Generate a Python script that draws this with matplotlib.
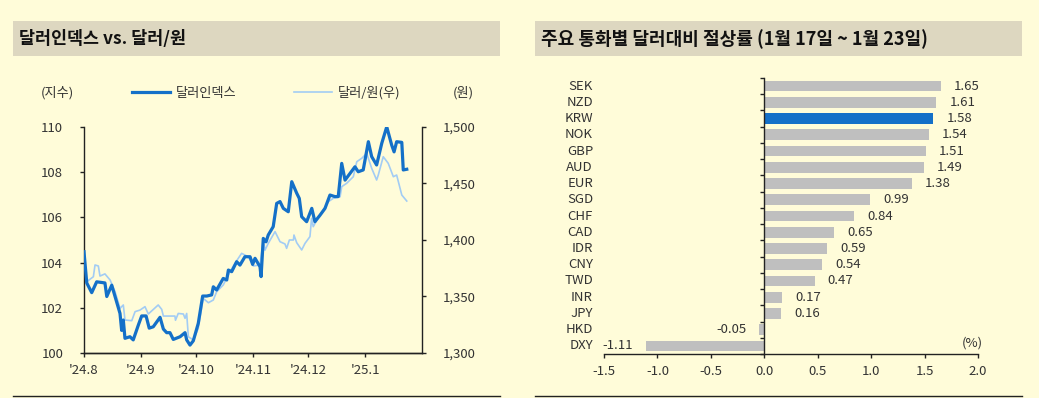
"""Dollar index vs USD/KRW, and weekly currency moves vs the dollar."""

import matplotlib
matplotlib.use("Agg")
import matplotlib.pyplot as plt
from matplotlib.patches import Rectangle
from matplotlib.lines import Line2D
from matplotlib.transforms import blended_transform_factory
from matplotlib.ticker import FuncFormatter

plt.rcParams["font.family"] = ["Noto Sans CJK KR", "DejaVu Sans"]
plt.rcParams["axes.unicode_minus"] = False

BG = "#FFFCD9"
BAND = "#DDD7C0"
DARK = "#1470C8"
LIGHT = "#A2CCF4"
GRAY = "#BFBFBF"
INK = "#222222"

# ---- left panel data (days since 2024-08-01) ----
month_ticks = [0, 31, 61, 92, 122, 153]
month_labels = ["'24.8", "'24.9", "'24.10", "'24.11", "'24.12", "'25.1"]

dxy_day = [0, 1.5, 4.2, 6.9, 11.4, 12.4, 15.1, 16.9, 19.6, 20.5, 21.4, 22.3, 25.0, 26.8, 29.6,
           31.4, 33.8, 35.5, 37.7, 41.4, 43.2, 45.0, 46.8, 48.6, 52.3, 55.0, 55.9, 57.7, 59.5, 62.2,
           64.6, 66.8, 69.5, 70.4, 72.2, 75.8, 77.7, 78.6, 80.4, 83.1, 84.9, 87.6, 90.4, 91.8, 93.1,
           95.8, 96.4, 97.6, 99.1, 100.3, 103.0, 104.9, 106.7, 108.5, 111.2, 113.1, 115.8, 117.2,
           118.5, 121.2, 124.0, 125.7, 128.5, 131.2, 133.9, 136.6, 138.4, 140.3, 142.1, 147.5,
           149.3, 152.0, 154.8, 156.6, 159.3, 162.1, 164.8, 167.5, 168.8, 170.2, 173.0, 173.8, 175.7]
dxy = [104.48, 103.1, 102.67, 103.15, 103.1, 102.5, 103.0, 102.5, 101.75, 101.0, 101.46, 100.65,
       100.72, 100.58, 101.24, 101.64, 101.64, 101.1, 101.16, 101.58, 101.06, 100.9, 100.9, 100.6,
       100.72, 100.9, 100.58, 100.35, 100.54, 101.31, 102.52, 102.52, 102.57, 102.93, 102.79, 103.3,
       103.23, 103.67, 103.6, 104.04, 103.89, 104.26, 104.26, 103.92, 104.19, 103.82, 103.38, 105.07,
       104.92, 105.22, 105.59, 106.62, 106.7, 106.4, 106.25, 107.58, 107.07, 106.84, 106.03, 105.81,
       106.4, 105.81, 106.1, 106.4, 106.99, 106.92, 106.92, 108.39, 107.65, 108.24, 108.02, 108.1,
       109.35, 108.69, 108.32, 109.28, 110.01, 109.2, 108.9, 109.35, 109.32, 108.1, 108.13]

krw_day = [0, 1.5, 5.1, 6.0, 7.8, 8.7, 11.4, 14.2, 16.9, 19.6, 21.4, 22.3, 26.0, 27.8, 30.5, 33.2,
           35.0, 40.4, 42.3, 43.2, 49.5, 49.8, 51.3, 54.1, 55.0, 55.9, 56.8, 59.5, 62.2, 64.9, 67.7,
           70.4, 72.2, 75.8, 79.5, 82.2, 85.8, 89.4, 92.2, 95.8, 97.6, 98.5, 100.3, 104.0, 106.7,
           109.4, 110.3, 111.8, 114.0, 114.3, 115.8, 118.5, 120.3, 123.0, 123.9, 124.8, 126.7, 130.3,
           133.0, 135.7, 139.4, 140.3, 143.0, 146.6, 148.5, 151.2, 153.9, 156.6, 159.3, 160.2, 162.9,
           165.6, 168.4, 170.2, 173.0, 175.7]
krw = [1379.4, 1363.1, 1367.5, 1377.9, 1377.0, 1368.1, 1370.0, 1364.6, 1354.3, 1339.5, 1342.5,
       1329.2, 1328.6, 1336.6, 1338.0, 1341.0, 1334.5, 1342.5, 1338.6, 1332.7, 1332.7, 1329.0,
       1335.0, 1334.5, 1330.7, 1335.0, 1314.4, 1311.5, 1321.8, 1348.4, 1344.5, 1346.9, 1354.2,
       1360.2, 1372.0, 1379.4, 1388.2, 1385.2, 1377.0, 1377.9, 1400.0, 1391.0, 1397.0, 1407.4,
       1398.5, 1396.5, 1392.6, 1400.0, 1400.0, 1404.4, 1397.6, 1391.2, 1397.0, 1403.0, 1419.2,
       1411.8, 1417.7, 1426.6, 1433.9, 1436.9, 1438.3, 1447.2, 1450.2, 1456.0, 1469.3, 1472.3,
       1476.7, 1463.5, 1453.1, 1457.5, 1473.7, 1467.9, 1456.0, 1457.5, 1439.8, 1434.5]

# ---- right panel data ----
currencies = ["SEK", "NZD", "KRW", "NOK", "GBP", "AUD", "EUR", "SGD", "CHF",
              "CAD", "IDR", "CNY", "TWD", "INR", "JPY", "HKD", "DXY"]
changes = [1.65, 1.61, 1.58, 1.54, 1.51, 1.49, 1.38, 0.99, 0.84,
           0.65, 0.59, 0.54, 0.47, 0.17, 0.16, -0.05, -1.11]
highlight = "KRW"

W, H = 1039, 398
fig = plt.figure(figsize=(W / 100, H / 100), dpi=100, facecolor=BG)


def fx(px):
    return px / W


def fy(py):
    return 1 - py / H


def panel_frame(x0, x1, title, size):
    fig.patches.append(Rectangle((fx(x0), fy(56)), fx(x1 - x0), fy(21) - fy(56),
                                 transform=fig.transFigure, facecolor=BAND, edgecolor="none"))
    fig.text(fx(x0 + 6), fy(39), title, fontsize=size, fontweight="bold", color="#111111",
             ha="left", va="center")
    fig.add_artist(Line2D([fx(x0), fx(x1)], [fy(396), fy(396)], transform=fig.transFigure,
                          color=INK, linewidth=1.0))


def style(ax):
    ax.set_facecolor("none")
    for s in ax.spines.values():
        s.set_color(INK)
        s.set_linewidth(1.0)
    ax.tick_params(colors=INK, labelcolor="#333333", labelsize=9.5, length=3, width=1.0)


# ---- left panel ----
panel_frame(13, 500, "달러인덱스 vs. 달러/원", 12.5)
ax = fig.add_axes([fx(84), fy(353), fx(422 - 84), fy(127) - fy(353)])
ax2 = ax.twinx()
style(ax)
style(ax2)
ax2.plot(krw_day, krw, color=LIGHT, linewidth=1.2, zorder=2)
ax.plot(dxy_day, dxy, color=DARK, linewidth=2.3, zorder=3)
ax.set_zorder(ax2.get_zorder() + 1)
ax.set_xlim(0, 184)
ax.set_ylim(100, 110)
ax.set_yticks([100, 102, 104, 106, 108, 110])
ax2.set_ylim(1300, 1500)
ax2.set_yticks([1300, 1350, 1400, 1450, 1500])
ax2.yaxis.set_major_formatter(FuncFormatter(lambda v, _: f"{v:,.0f}"))
ax.set_xticks(month_ticks)
ax.set_xticklabels(month_labels)
for a in (ax, ax2):
    a.spines["top"].set_visible(False)
ax.spines["right"].set_visible(False)
ax2.spines["left"].set_visible(False)
ax.tick_params(axis="y", pad=12)
ax2.tick_params(axis="y", pad=12)
ax.tick_params(axis="x", pad=5)

fig.text(fx(57), fy(93), "(지수)", fontsize=9.5, color="#333333", ha="center", va="center")
fig.text(fx(463), fy(93), "(원)", fontsize=9.5, color="#333333", ha="center", va="center")
handles = [Line2D([0], [0], color=DARK, linewidth=2.3, label="달러인덱스"),
           Line2D([0], [0], color=LIGHT, linewidth=1.2, label="달러/원(우)")]
fig.legend(handles=handles, loc="center left", bbox_to_anchor=(fx(132), fy(93)),
           bbox_transform=fig.transFigure, ncol=2, frameon=False, fontsize=9.5,
           handlelength=2.9, handletextpad=0.4, columnspacing=4.4, borderpad=0,
           borderaxespad=0, labelcolor="#333333")

# ---- right panel ----
panel_frame(535, 1022, "주요 통화별 달러대비 절상률 (1월 17일 ~ 1월 23일)", 13)
bx = fig.add_axes([fx(604), fy(354), fx(978 - 604), fy(78) - fy(354)])
style(bx)
ypos = list(range(len(currencies)))
colors = [DARK if c == highlight else GRAY for c in currencies]
bx.barh(ypos, changes, height=0.66, color=colors, zorder=2)
bx.set_xlim(-1.5, 2.0)
bx.set_ylim(len(currencies) - 0.5, -0.5)
bx.set_xticks([-1.5, -1.0, -0.5, 0.0, 0.5, 1.0, 1.5, 2.0])
bx.xaxis.set_major_formatter(FuncFormatter(lambda v, _: f"{v:.1f}"))
bx.spines["top"].set_visible(False)
bx.spines["right"].set_visible(False)
bx.spines["left"].set_position(("data", 0))
bx.spines["left"].set_zorder(3)
bx.set_yticks([i - 0.5 for i in range(len(currencies) + 1)])
bx.set_yticklabels([])
bx.tick_params(axis="y", length=3)
bx.tick_params(axis="x", pad=5)

label_tf = blended_transform_factory(bx.transAxes, bx.transData)
for y, c, v in zip(ypos, currencies, changes):
    bx.text(-11 / 374, y, c, transform=label_tf, ha="right", va="center",
            fontsize=9.5, color="#333333")
    if v >= 0:
        bx.annotate(f"{v:.2f}", (v, y), xytext=(9.5, 0), textcoords="offset points",
                    ha="left", va="center", fontsize=9.5, color="#333333")
    else:
        bx.annotate(f"{v:.2f}", (v, y), xytext=(-9, 0), textcoords="offset points",
                    ha="right", va="center", fontsize=9.5, color="#333333")
fig.text(fx(972), fy(343), "(%)", fontsize=9.5, color="#333333", ha="center", va="center")

fig.savefig("out.png", dpi=100, facecolor=BG)
